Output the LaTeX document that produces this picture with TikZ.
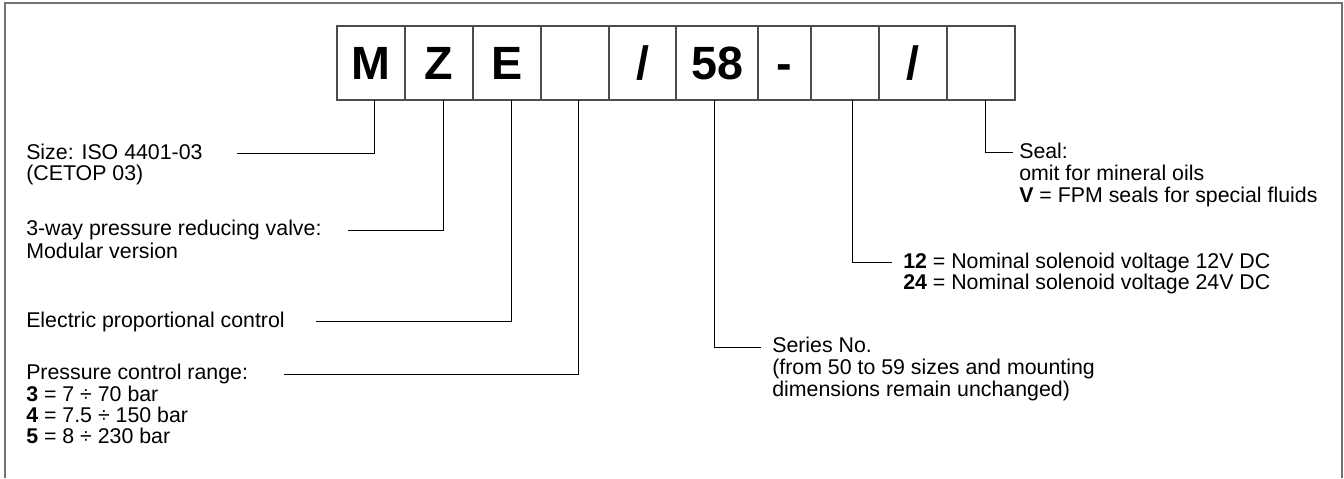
\documentclass[tikz,border=0pt]{standalone}
\usepackage{fontspec}
\setmainfont{Liberation Sans}
\usetikzlibrary{positioning}

\begin{document}
\begin{tikzpicture}[
    x=0.75pt, y=-0.75pt,
    cell/.style={
        rectangle, draw=black!70, line width=0.9pt,
        outer sep=0pt, inner sep=0pt,
        minimum width=#1*0.75pt, minimum height=74*0.75pt,
        text height=25pt, text depth=0pt,
        font=\fontsize{35}{40}\selectfont\bfseries
    },
    cell/.default=68,
    lbl/.style={anchor=base west, inner sep=0pt, font=\fontsize{16}{19}\selectfont},
    conn/.style={draw=black, line width=0.75pt},
    frame/.style={draw=black!55, line width=1.5pt}
]
    \useasboundingbox (0,0) rectangle (1344,478);

    %% --- Frame (open at the bottom) ---
    \draw[frame] (5,478) -- (5,3) -- (1342,3) -- (1342,478);

    %% --- Code boxes ---
    \node[cell] (bM) at (371,63) {M};
    \node[cell, right=0pt of bM] (bZ) {Z};
    \node[cell, right=0pt of bZ] (bE) {E};
    \node[cell, right=0pt of bE] (bRange) {};
    \node[cell=67, right=0pt of bRange] (bSlashA) {/};
    \node[cell=82, right=0pt of bSlashA] (bSeries) {58};
    \node[cell=53, right=0pt of bSeries] (bDash) {-};
    \node[cell, right=0pt of bDash] (bVolt) {};
    \node[cell, right=0pt of bVolt] (bSlashB) {/};
    \node[cell, right=0pt of bSlashB] (bSeal) {};

    %% --- Left: descriptions ---
    \node[lbl] (sizeA) at (26,159) {Size: ISO 4401-03};
    \node[lbl] (sizeB) at (26,180) {(CETOP 03)};
    \node[lbl] (typeA) at (26,235) {3-way pressure reducing valve:};
    \node[lbl] (typeB) at (26,258) {Modular version};
    \node[lbl] (ctrlA) at (26,327) {Electric proportional control};
    \node[lbl] (rngA) at (26,379) {Pressure control range:};
    \node[lbl] (rngB) at (26,401) {\textbf{3} = 7 ÷ 70 bar};
    \node[lbl] (rngC) at (26,422) {\textbf{4} = 7.5 ÷ 150 bar};
    \node[lbl] (rngD) at (26,443) {\textbf{5} = 8 ÷ 230 bar};

    %% --- Right: descriptions ---
    \node[lbl] (sealA) at (1019,158) {Seal:};
    \node[lbl] (sealB) at (1019,180) {omit for mineral oils};
    \node[lbl] (sealC) at (1019,202) {\textbf{V} = FPM seals for special fluids};
    \node[lbl] (voltA) at (903,268) {\textbf{12} = Nominal solenoid voltage 12V DC};
    \node[lbl] (voltB) at (903,289) {\textbf{24} = Nominal solenoid voltage 24V DC};
    \node[lbl] (serA) at (772,352) {Series No.};
    \node[lbl] (serB) at (772,374) {(from 50 to 59 sizes and mounting};
    \node[lbl] (serC) at (772,396) {dimensions remain unchanged)};

    %% --- Connector ends ---
    \coordinate (tM) at (374,100);      \coordinate (eM) at (237,153);
    \coordinate (tZ) at (443,100);      \coordinate (eZ) at (348,230);
    \coordinate (tE) at (511,100);      \coordinate (eE) at (316,321);
    \coordinate (tRange) at (578,100);  \coordinate (eRange) at (284,374);
    \coordinate (tSeries) at (714,100); \coordinate (eSeries) at (761,347);
    \coordinate (tVolt) at (852,100);   \coordinate (eVolt) at (892,262);
    \coordinate (tSeal) at (985,100);   \coordinate (eSeal) at (1013,152);

    %% --- Connectors ---
    \draw[conn] (tM) |- (eM);
    \draw[conn] (tZ) |- (eZ);
    \draw[conn] (tE) |- (eE);
    \draw[conn] (tRange) |- (eRange);
    \draw[conn] (tSeries) |- (eSeries);
    \draw[conn] (tVolt) |- (eVolt);
    \draw[conn] (tSeal) |- (eSeal);
\end{tikzpicture}
\end{document}
